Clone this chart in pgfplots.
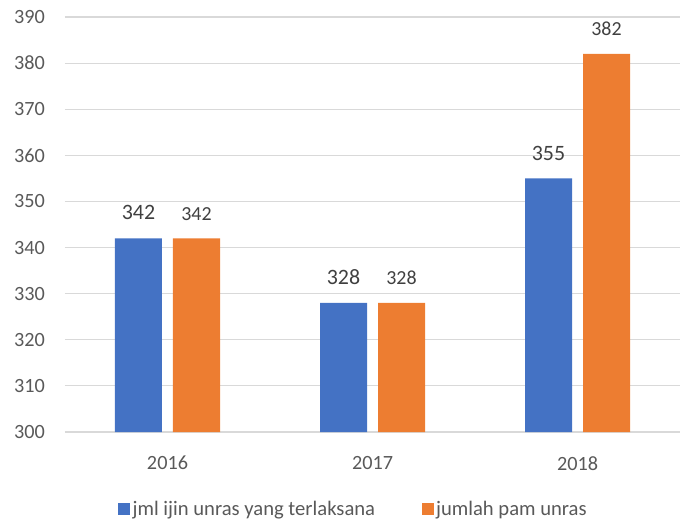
\documentclass[border=0pt]{standalone}
\usepackage{pgfplots}
\pgfplotsset{compat=1.18}
\usepackage{fontspec}
\setmainfont{Carlito}
\definecolor{cblue}{HTML}{4472C4}
\definecolor{corange}{HTML}{ED7D31}
\definecolor{cgrid}{HTML}{D9D9D9}
\definecolor{ctext}{HTML}{595959}
\definecolor{clabel}{HTML}{404040}
\begin{document}
\begin{tikzpicture}
\useasboundingbox (-65bp,-88bp) rectangle (616bp,432bp);
\begin{axis}[
  scale only axis, width=615bp, height=415bp,
  xmin=-0.5, xmax=2.5, ymin=300, ymax=390,
  ytick={300,310,...,390},
  xtick={0,1,2}, xticklabels={2016,2017,2018},
  axis line style={draw=none},
  major tick length=0,
  ymajorgrids, grid style={cgrid, line width=1.2bp},
  ybar, bar width=47bp,
  /pgf/number format/assume math mode=true,
  /pgf/number format/1000 sep={},
  ticklabel style={font=\fontsize{20.3}{24}\selectfont, text=ctext},
  yticklabel style={inner sep=0pt, xshift=-20bp},
  xticklabel style={inner sep=0pt, yshift=-24bp},
  legend style={at={(0.0862,-0.1855)}, anchor=west, draw=none, inner sep=0pt,
    font=\fontsize{20.7}{24}\selectfont, text=ctext, legend columns=2,
    nodes={inner sep=2.5bp, text=ctext},
    /tikz/every even column/.append style={column sep=44bp}},
  legend image code/.code={\fill[#1] (0bp,-6bp) rectangle (12bp,6bp);},
]
\addplot[fill=cblue, draw=none, bar shift=-29bp, nodes near coords,
  nodes near coords style={font=\fontsize{22}{26}\selectfont, text=clabel, inner sep=0pt, anchor=south, yshift=18bp}]
  coordinates {(0,342) (1,328) (2,355)};
\addlegendentry{jml ijin unras yang terlaksana}
\addplot[fill=corange, draw=none, bar shift=29bp, nodes near coords,
  nodes near coords style={font=\fontsize{20}{24}\selectfont, text=clabel, inner sep=0pt, anchor=south, yshift=18bp}]
  coordinates {(0,342) (1,328) (2,382)};
\addlegendentry{jumlah pam unras}
\end{axis}
\end{tikzpicture}
\end{document}
